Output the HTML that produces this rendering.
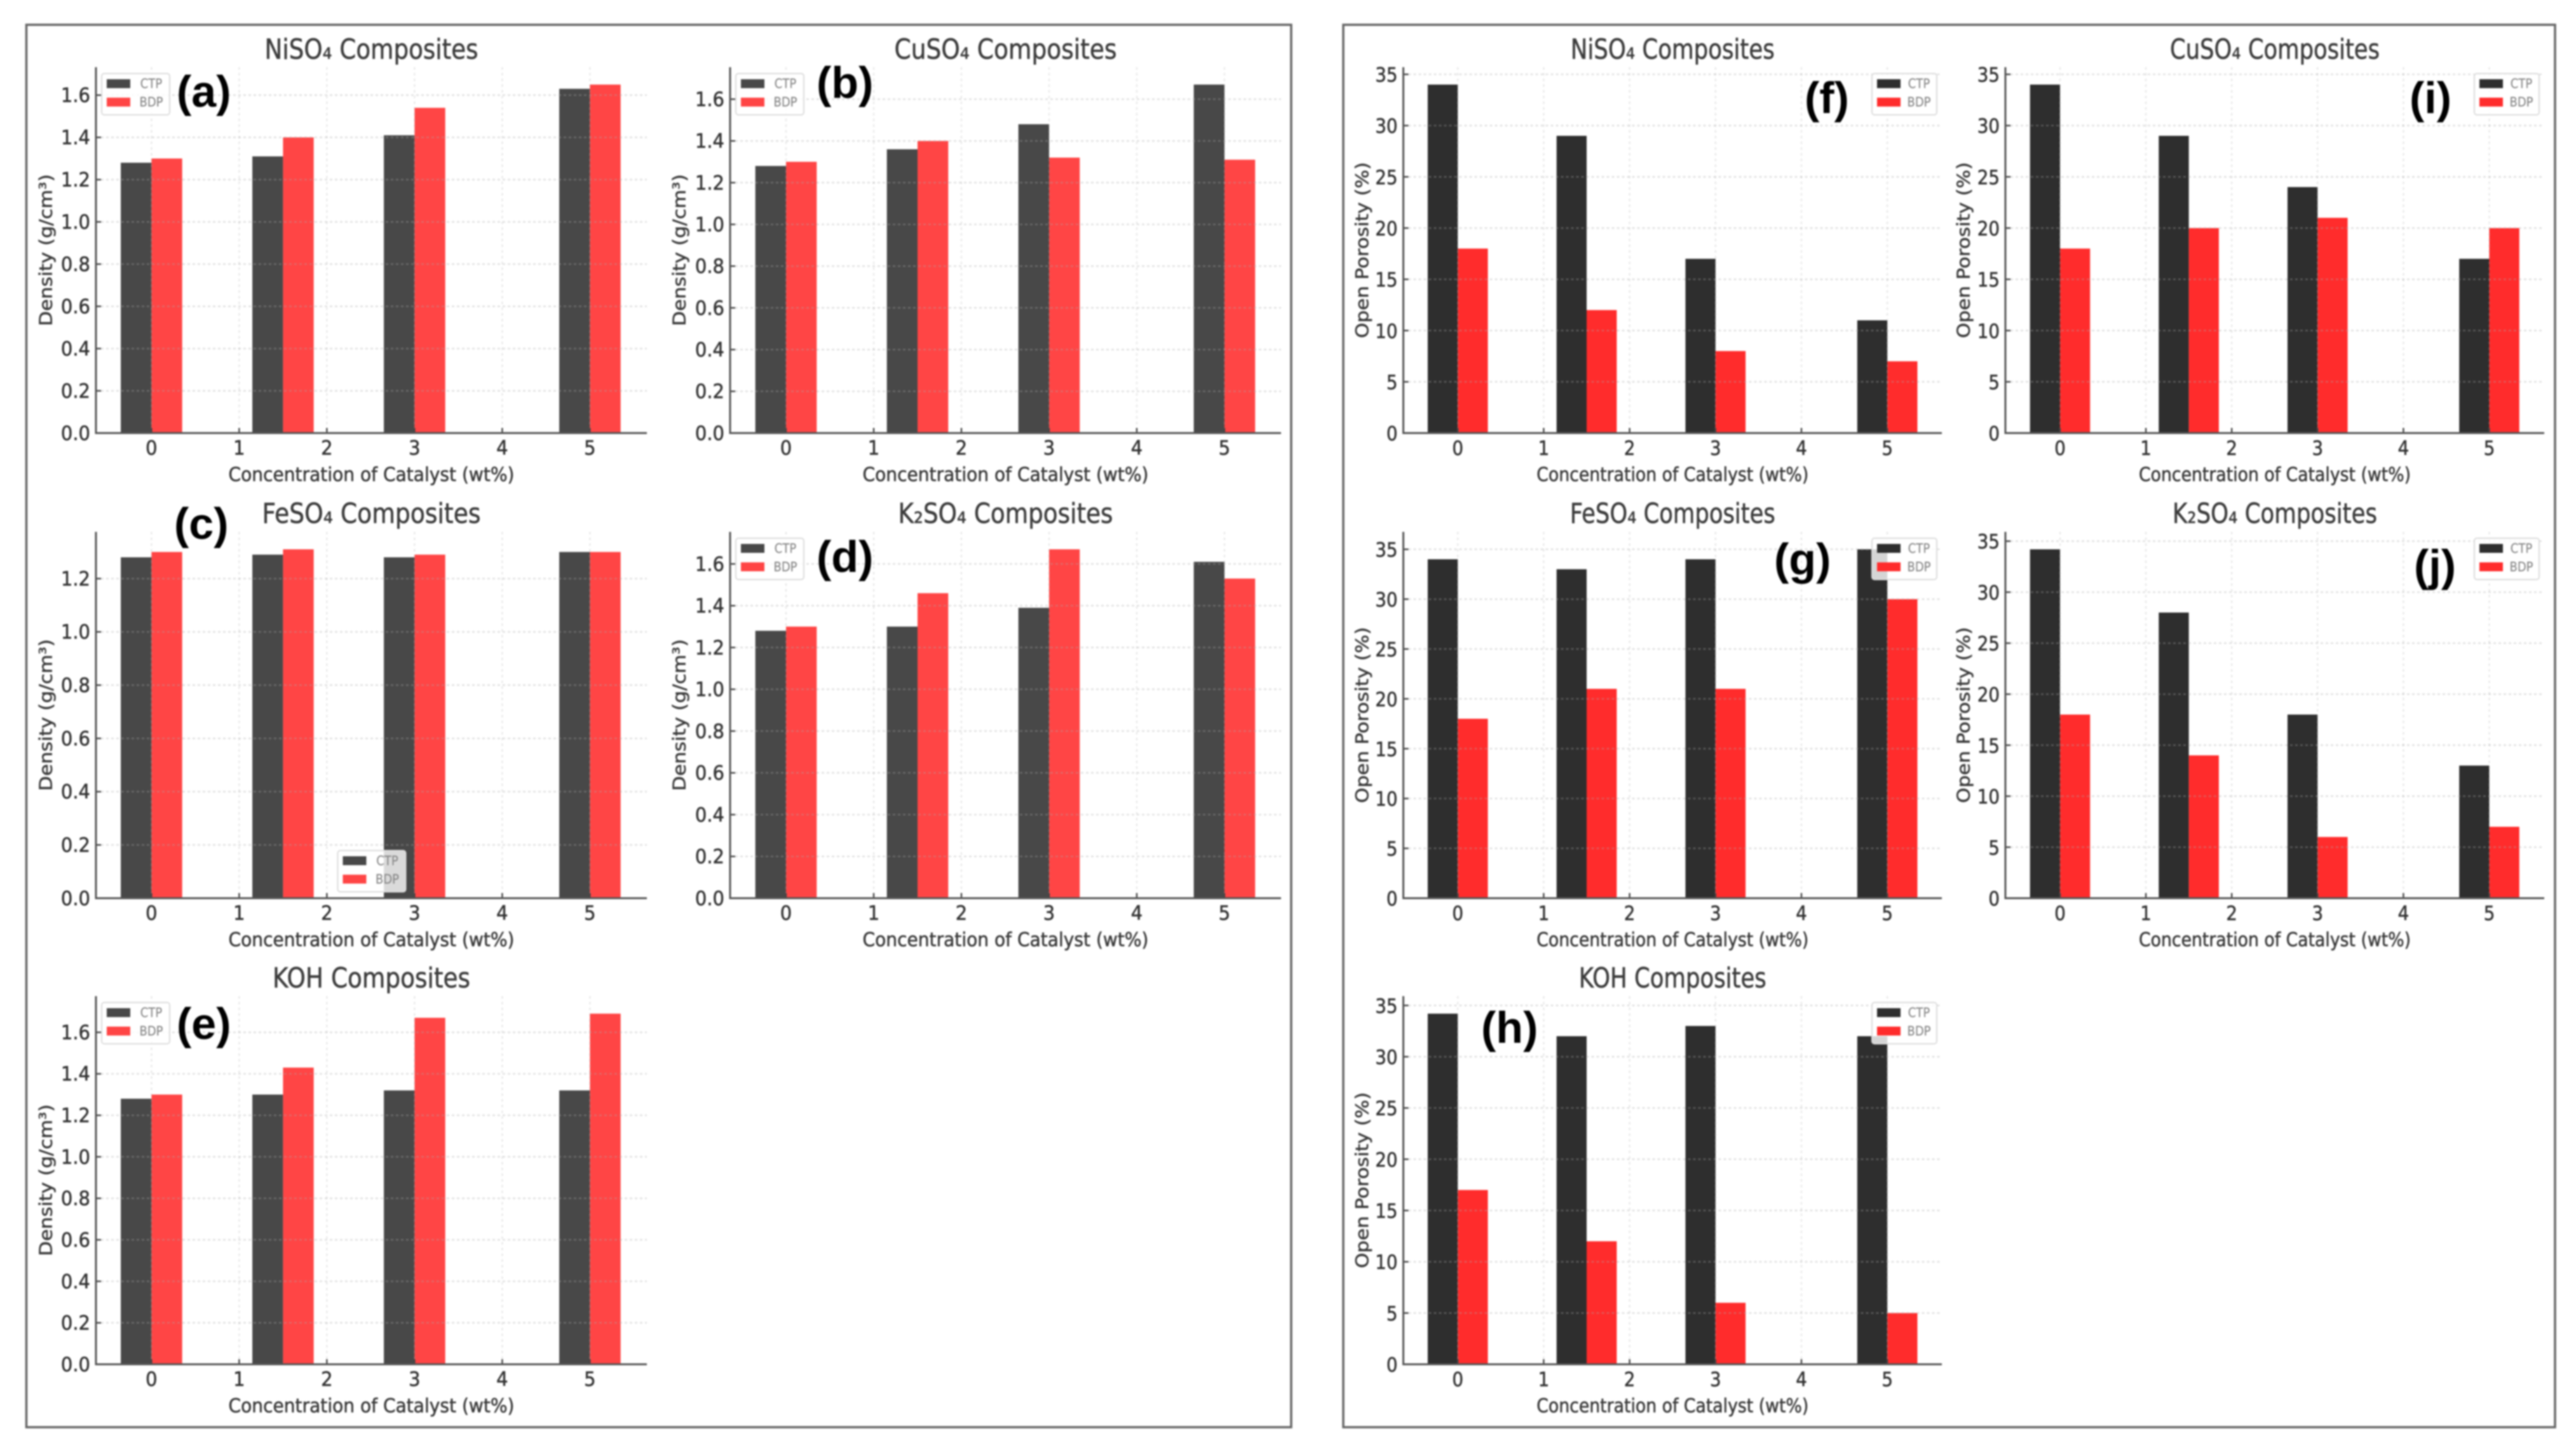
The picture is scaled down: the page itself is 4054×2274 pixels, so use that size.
<!DOCTYPE html>
<html lang="en">
<head>
<meta charset="utf-8">
<title>Density and open porosity of catalyst composites</title>
<style>
html,body{margin:0;padding:0;background:#fff;width:4054px;height:2274px;overflow:hidden}
svg{display:block;filter:blur(1.3px)}
text{font-family:"DejaVu Sans","Liberation Sans",sans-serif}
</style>
</head>
<body>
<svg id="figure" xmlns="http://www.w3.org/2000/svg" width="4054" height="2274" viewBox="0 0 4054 2274">
  <rect x="0" y="0" width="4054" height="2274" fill="#fff"/>
  <rect x="41.5" y="39" width="1990.5" height="2207" fill="none" stroke="#666" stroke-width="3.5"/>
  <rect x="2114" y="39" width="1907" height="2207" fill="none" stroke="#666" stroke-width="3.5"/>
</svg>
<script>
// ---- Data ----
const xTickLabels = [0, 1, 2, 3, 4, 5];
const concentrations = [0, 1.5, 3, 5];
const densityTicks = [0, 0.2, 0.4, 0.6, 0.8, 1.0, 1.2, 1.4, 1.6];
const porosityTicks = [0, 5, 10, 15, 20, 25, 30, 35];
const seriesNames = ['CTP', 'BDP'];

const densityNiSO4CTP = [1.28, 1.31, 1.41, 1.63];
const densityNiSO4BDP = [1.30, 1.40, 1.54, 1.65];
const densityCuSO4CTP = [1.28, 1.36, 1.48, 1.67];
const densityCuSO4BDP = [1.30, 1.40, 1.32, 1.31];
const densityFeSO4CTP = [1.28, 1.29, 1.28, 1.30];
const densityFeSO4BDP = [1.30, 1.31, 1.29, 1.30];
const densityK2SO4CTP = [1.28, 1.30, 1.39, 1.61];
const densityK2SO4BDP = [1.30, 1.46, 1.67, 1.53];
const densityKOHCTP = [1.28, 1.30, 1.32, 1.32];
const densityKOHBDP = [1.30, 1.43, 1.67, 1.69];

const porosityNiSO4CTP = [34, 29, 17, 11];
const porosityNiSO4BDP = [18, 12, 8, 7];
const porosityFeSO4CTP = [34, 33, 34, 35];
const porosityFeSO4BDP = [18, 21, 21, 30];
const porosityKOHCTP = [34.2, 32, 33, 32];
const porosityKOHBDP = [17, 12, 6, 5];
const porosityCuSO4CTP = [34, 29, 24, 17];
const porosityCuSO4BDP = [18, 20, 21, 20];
const porosityK2SO4CTP = [34.2, 28, 18, 13];
const porosityK2SO4BDP = [18, 14, 6, 7];

// ---- Layout ----
const svgNS = 'http://www.w3.org/2000/svg';
const figure = document.getElementById('figure');
const columns = {
  a: {left: 151, right: 1018, zero: 238.4, unit: 138},
  b: {left: 1149, right: 2016, zero: 1237, unit: 138},
  f: {left: 2208.5, right: 3056, zero: 2294.2, unit: 135.2},
  i: {left: 3156, right: 4004, zero: 3242, unit: 135.1}
};
const rows = [
  {base: 681.5, top: 105.7, title: 78},
  {base: 1413.5, top: 837, title: 808.5},
  {base: 2147, top: 1567.6, title: 1539.5}
];
const densityStyle = {ctp: '#484848', bdp: '#ff4545', ticks: densityTicks, fmt: v => v.toFixed(1), yLabel: 'Density (g/cm³)', yLen: 239, xLen: 450, sx: 1, tickSize: 29, legendW: 107, textOff: 78, patchOff: 8};
const porosityStyle = {ctp: '#2e2e2e', bdp: '#ff2c2c', ticks: porosityTicks, fmt: v => String(v), yLabel: 'Open Porosity (%)', yLen: 277, xLen: 428, sx: 0.955, tickSize: 29, legendW: 102, textOff: 74, patchOff: 8};

const panels = [
  {id: 'a', title: 'NiSO₄ Composites', col: 'a', row: 0, s: densityStyle, ctp: densityNiSO4CTP, bdp: densityNiSO4BDP, titleLen: 336, yLabelX: 72, legend: 'ul', letterX: 278, letterY: 168},
  {id: 'b', title: 'CuSO₄ Composites', col: 'b', row: 0, s: densityStyle, ctp: densityCuSO4CTP, bdp: densityCuSO4BDP, titleLen: 350, yLabelX: 1069, legend: 'ul', letterX: 1285, letterY: 154},
  {id: 'c', title: 'FeSO₄ Composites', col: 'a', row: 1, s: densityStyle, ctp: densityFeSO4CTP, bdp: densityFeSO4BDP, titleLen: 344, yLabelX: 72, legend: 'lc', letterX: 274, letterY: 848},
  {id: 'd', title: 'K₂SO₄ Composites', col: 'b', row: 1, s: densityStyle, ctp: densityK2SO4CTP, bdp: densityK2SO4BDP, titleLen: 338, yLabelX: 1069, legend: 'ul', letterX: 1285, letterY: 900},
  {id: 'e', title: 'KOH Composites', col: 'a', row: 2, s: densityStyle, ctp: densityKOHCTP, bdp: densityKOHBDP, titleLen: 311, yLabelX: 72, legend: 'ul', letterX: 278, letterY: 1635},
  {id: 'f', title: 'NiSO₄ Composites', col: 'f', row: 0, s: porosityStyle, ctp: porosityNiSO4CTP, bdp: porosityNiSO4BDP, titleLen: 321, yLabelX: 2143.5, legend: 'ur', letterX: 2840, letterY: 178},
  {id: 'g', title: 'FeSO₄ Composites', col: 'f', row: 1, s: porosityStyle, ctp: porosityFeSO4CTP, bdp: porosityFeSO4BDP, titleLen: 323, yLabelX: 2143.5, legend: 'ur', letterX: 2792, letterY: 904},
  {id: 'h', title: 'KOH Composites', col: 'f', row: 2, s: porosityStyle, ctp: porosityKOHCTP, bdp: porosityKOHBDP, titleLen: 295, yLabelX: 2143.5, legend: 'ur', letterX: 2331, letterY: 1641},
  {id: 'i', title: 'CuSO₄ Composites', col: 'i', row: 0, s: porosityStyle, ctp: porosityCuSO4CTP, bdp: porosityCuSO4BDP, titleLen: 330, yLabelX: 3090, legend: 'ur', letterX: 3792, letterY: 178},
  {id: 'j', title: 'K₂SO₄ Composites', col: 'i', row: 1, s: porosityStyle, ctp: porosityK2SO4CTP, bdp: porosityK2SO4BDP, titleLen: 322, yLabelX: 3090, legend: 'ur', letterX: 3799, letterY: 914}
];

function mk(tag, parent, attrs) {
  const node = document.createElementNS(svgNS, tag);
  for (const k in attrs) node.setAttribute(k, attrs[k]);
  parent.appendChild(node);
  return node;
}
function txt(parent, str, o) {
  const node = mk('text', parent, {
    transform: 'translate(' + o.x + ',' + o.y + ') rotate(' + (o.rot || 0) + ') scale(' + (o.sx || 1) + ',' + (o.sy || 1) + ')',
    'text-anchor': o.anchor || 'middle',
    'dominant-baseline': o.baseline || 'central',
    'font-size': o.size,
    fill: o.fill || '#3a3a3a',
    stroke: o.fill || '#3a3a3a',
    'stroke-width': o.heavy === undefined ? 0.55 : o.heavy
  });
  if (o.len) {
    node.setAttribute('textLength', o.len);
    node.setAttribute('lengthAdjust', 'spacingAndGlyphs');
  }
  if (o.weight) node.setAttribute('font-weight', o.weight);
  if (o.family) node.style.fontFamily = o.family;
  node.textContent = str;
  return node;
}

function drawPanel(p) {
  const col = columns[p.col];
  const row = rows[p.row];
  const s = p.s;
  const yMax = Math.max.apply(null, p.ctp.concat(p.bdp)) * 1.05;
  const xScale = v => col.zero + v * col.unit;
  const yScale = v => row.base - (row.base - row.top) * v / yMax;
  const barW = 0.35;

  const g = mk('g', figure, {});
  
  

  const title = txt(g, p.title, {x: (col.left + col.right) / 2, y: row.title, size: 42, len: p.titleLen, sy: 1.04, fill: '#3c3c3c'});
  
  

  // bars
  concentrations.forEach(function (c, i) {
    const ctpBar = mk('rect', g, {x: xScale(c - barW), y: yScale(p.ctp[i]), width: xScale(c) - xScale(c - barW), height: yScale(0) - yScale(p.ctp[i]), fill: s.ctp});
    
    
    const bdpBar = mk('rect', g, {x: xScale(c), y: yScale(p.bdp[i]), width: xScale(c + barW) - xScale(c), height: yScale(0) - yScale(p.bdp[i]), fill: s.bdp});
    
    
  });

  // grid + ticks
  xTickLabels.forEach(function (t) {
    const x = xScale(t);
    const grid = mk('line', g, {x1: x, x2: x, y1: row.top, y2: row.base, stroke: '#aaa', 'stroke-opacity': 0.26, 'stroke-width': 2.4, 'stroke-dasharray': '4 5'});
    
    
    const tick = mk('line', g, {x1: x, x2: x, y1: row.base - 8, y2: row.base, stroke: '#444', 'stroke-width': 2.4});
    
    
    const label = txt(g, String(t), {x: x, y: row.base + 24, size: s.tickSize, sx: s.sx, sy: 1.08, fill: '#333'});
    
    
  });
  s.ticks.filter(t => t <= yMax).forEach(function (t) {
    const y = yScale(t);
    const grid = mk('line', g, {x1: col.left, x2: col.right, y1: y, y2: y, stroke: '#aaa', 'stroke-opacity': 0.34, 'stroke-width': 2.6, 'stroke-dasharray': '4 4'});
    
    
    const tick = mk('line', g, {x1: col.left, x2: col.left + 8, y1: y, y2: y, stroke: '#444', 'stroke-width': 2.4});
    
    
    const label = txt(g, s.fmt(t), {x: col.left - 9, y: y + 1, size: s.tickSize, anchor: 'end', sx: s.sx, sy: 1.08, fill: '#333'});
    
    
  });

  // spines
  const ySpine = mk('line', g, {x1: col.left, x2: col.left, y1: row.top, y2: row.base + 1.5, stroke: '#555', 'stroke-width': 3});
  
  
  const xSpine = mk('line', g, {x1: col.left, x2: col.right, y1: row.base, y2: row.base, stroke: '#555', 'stroke-width': 3});
  
  

  // axis titles
  const xTitle = txt(g, 'Concentration of Catalyst (wt%)', {x: (col.left + col.right) / 2, y: row.base + 65, size: 28, len: s.xLen, sy: 1.08});
  
  
  const yTitle = txt(g, s.yLabel, {x: p.yLabelX, y: (row.top + row.base) / 2, size: 28, len: s.yLen, rot: -90, sy: 1});
  
  

  // legend
  const w = s.legendW;
  const h = 65;
  let lx = col.left + 9;
  let ly = row.top + 10;
  if (p.legend === 'ur') { lx = col.right - 8 - w; }
  if (p.legend === 'lc') { lx = (col.left + col.right) / 2 - w / 2 + 0.5; ly = row.base - 10 - h; }
  const lg = mk('g', g, {});
  
  
  const box = mk('rect', lg, {x: lx, y: ly, width: w, height: h, rx: 4, fill: '#fff', 'fill-opacity': 0.8, stroke: '#dcdcdc', 'stroke-width': 2});
  
  
  seriesNames.forEach(function (name, i) {
    const py = ly + 9 + i * 29;
    const patch = mk('rect', lg, {x: lx + s.patchOff, y: py, width: 37, height: 14, fill: i === 0 ? s.ctp : s.bdp});
    
    
    const lbl = txt(lg, name, {x: lx + s.textOff, y: py + 7, size: 18, sy: 1.15, fill: '#888', heavy: 0.2});
    
    
  });

  // panel letter
  const letter = txt(g, '(' + p.id + ')', {x: p.letterX, y: p.letterY, size: 70, anchor: 'start', baseline: 'alphabetic', weight: 700, fill: '#000', family: '"Liberation Sans", sans-serif', heavy: 0});
  
  
}
panels.forEach(drawPanel);
</script>
</body>
</html>
